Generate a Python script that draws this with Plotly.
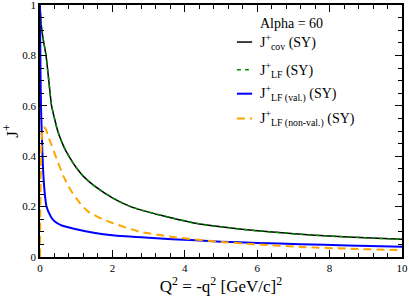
import plotly.graph_objects as go

# Q^2 values and curves
q2_cov = [0, 0.02, 0.05, 0.1, 0.166, 0.25, 0.32, 0.4, 0.49, 0.65, 0.83, 1.0, 1.2, 1.52, 2.0, 2.5, 3.0, 3.5, 4.3, 5.0, 6.0, 7.2, 8.0, 9.0, 10.0]
j_cov = [1.0, 0.95, 0.9, 0.855, 0.8, 0.69, 0.6, 0.55, 0.5, 0.44, 0.392, 0.355, 0.32, 0.28, 0.235, 0.2, 0.178, 0.16, 0.134, 0.12, 0.104, 0.09, 0.083, 0.076, 0.07]
j_lf = list(j_cov)

q2_val = [0, 0.005, 0.015, 0.03, 0.047, 0.07, 0.1, 0.14, 0.18, 0.3, 0.41, 0.6, 0.97, 1.52, 2.0, 3.0, 4.3, 5.0, 6.0, 7.2, 8.5, 10.0]
j_val = [1.0, 0.9, 0.72, 0.58, 0.5, 0.4, 0.31, 0.24, 0.2, 0.16, 0.141, 0.125, 0.111, 0.095, 0.086, 0.076, 0.066, 0.061, 0.056, 0.051, 0.046, 0.041]

q2_nonval = [0, 0.01, 0.03, 0.06, 0.1, 0.15, 0.25, 0.46, 0.65, 0.87, 1.1, 1.33, 1.7, 2.0, 2.76, 3.5, 4.3, 5.0, 6.0, 7.2, 8.5, 10.0]
j_nonval = [0.0, 0.2, 0.4, 0.49, 0.515, 0.51, 0.47, 0.39, 0.32, 0.26, 0.215, 0.18, 0.152, 0.135, 0.1, 0.083, 0.069, 0.06, 0.05, 0.04, 0.033, 0.027]

x_ticks = [0, 2, 4, 6, 8, 10]
y_ticks = [0, 0.2, 0.4, 0.6, 0.8, 1]
y_ticklabels = ["0", "0.2", "0.4", "0.6", "0.8", "1"]

legend_title = "Alpha = 60"
series_names = ["J<sup>+</sup><sub>cov</sub> (SY)",
                "J<sup>+</sup><sub>LF</sub> (SY)",
                "J<sup>+</sup><sub>LF (val.)</sub> (SY)",
                "J<sup>+</sup><sub>LF (non-val.)</sub> (SY)"]

SERIF = "Liberation Serif"
colors = ["black", "#008b00", "#0000ff", "#ffa500"]
widths = [1.5, 1.5, 2, 2]
dashes = ["solid", "4px,4px", "solid", "8px,5px"]

fig = go.Figure()
series = [(q2_cov, j_cov), (q2_cov, j_lf), (q2_val, j_val), (q2_nonval, j_nonval)]
for (xs, ys), name, c, w, d in zip(series, series_names, colors, widths, dashes):
    fig.add_trace(go.Scatter(x=xs, y=ys, mode="lines", name=name, showlegend=False,
                             line=dict(color=c, width=w, dash=d, shape="spline", smoothing=0.6)))

axis_common = dict(showline=True, linecolor="black", linewidth=1.5, mirror="allticks",
                   ticks="inside", ticklen=7, tickwidth=1, tickcolor="black",
                   showgrid=False, zeroline=False, automargin=False,
                   ticklabeloverflow="allow",
                   tickfont=dict(family=SERIF, size=11, color="black"))

fig.update_xaxes(range=[0, 10], tickvals=x_ticks, ticktext=[str(v) for v in x_ticks],
                 minor=dict(ticks="inside", ticklen=4, tickwidth=1, tickcolor="black", dtick=0.4, showgrid=False),
                 title=dict(text="Q<sup>2</sup> = -q<sup>2</sup> [GeV/c]<sup>2</sup>", font=dict(family=SERIF, size=17, color="black"), standoff=2),
                 **axis_common)
fig.update_yaxes(range=[0, 1], tickvals=y_ticks, ticktext=y_ticklabels,
                 minor=dict(ticks="inside", ticklen=4, tickwidth=1, tickcolor="black", dtick=0.05, showgrid=False),
                 title=dict(text="J<sup>+</sup>", font=dict(family=SERIF, size=17, color="black"), standoff=4),
                 **axis_common)

# manual legend (Grace style)
fig.add_annotation(text=legend_title, xref="paper", yref="paper", x=0.602, y=0.925,
                   xanchor="left", yanchor="middle", showarrow=False,
                   font=dict(family=SERIF, size=14, color="black"))
row_y = [0.853, 0.743, 0.648, 0.55]
for name, c, w, d, ry in zip(series_names, colors, widths, dashes, row_y):
    fig.add_shape(type="line", xref="paper", yref="paper", x0=0.544, x1=0.586, y0=ry, y1=ry,
                  line=dict(color=c, width=w, dash=d))
    fig.add_annotation(text=name, xref="paper", yref="paper", x=0.602, y=ry,
                       xanchor="left", yanchor="middle", showarrow=False,
                       font=dict(family=SERIF, size=14, color="black"))

fig.update_layout(
    width=409, height=299,
    margin=dict(l=40, r=7, t=5, b=42, autoexpand=False),
    font=dict(family=SERIF, color="black"),
    plot_bgcolor="white", paper_bgcolor="white",
    showlegend=False,
)

fig.write_html("out.html", config={"displayModeBar": False},
               post_script="document.body.style.margin='0';document.body.style.padding='0';document.body.style.overflow='hidden';")
